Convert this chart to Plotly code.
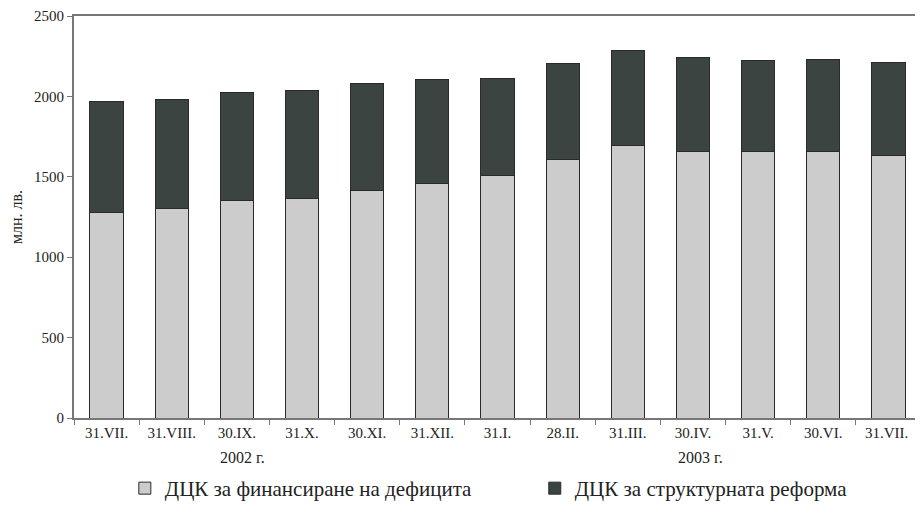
import plotly.graph_objects as go

categories = ["31.VII.", "31.VIII.", "30.IX.", "31.X.", "30.XI.", "31.XII.",
              "31.I.", "28.II.", "31.III.", "30.IV.", "31.V.", "30.VI.", "31.VII. "]
deficit = [1281, 1306, 1350, 1367, 1412, 1460, 1511, 1605, 1692, 1655, 1655, 1655, 1634]
reform = [689, 674, 674, 669, 670, 647, 598, 599, 595, 586, 567, 576, 578]
y_ticks = [0, 500, 1000, 1500, 2000, 2500]
series_names = ["ДЦК за финансиране на дефицита", "ДЦК за структурната реформа"]
year_labels = ["2002 г.", "2003 г."]

font = "Liberation Serif"
fig = go.Figure()
fig.add_bar(x=categories, y=deficit, name=series_names[0], legend="legend",
            marker=dict(color="#cccccc", line=dict(color="#2a2a2a", width=1)))
fig.add_bar(x=categories, y=reform, name=series_names[1], legend="legend2",
            marker=dict(color="#3c4442", line=dict(color="#2a2a2a", width=1)))

legend_style = dict(orientation="h", xanchor="left", y=-0.028, yanchor="bottom",
                    yref="container", font=dict(size=21, family=font))
fig.update_layout(
    width=915, height=501, barmode="stack", bargap=0.49,
    margin=dict(l=66, r=2, t=8, b=91),
    paper_bgcolor="white", plot_bgcolor="white",
    font=dict(family=font, size=15, color="#222"),
    showlegend=True,
    legend=dict(x=0.060, **legend_style),
    legend2=dict(x=0.544, **legend_style),
    annotations=[
        dict(text=year_labels[0], x=2.08, y=-0.072, xref="x", yref="paper",
             showarrow=False, font=dict(size=16, family=font), yanchor="top"),
        dict(text=year_labels[1], x=9.11, y=-0.072, xref="x", yref="paper",
             showarrow=False, font=dict(size=16, family=font), yanchor="top"),
    ],
)
fig.update_xaxes(showline=True, linecolor="#777", linewidth=2, mirror=True,
                 ticks="outside", tickson="boundaries", ticklen=5, tickcolor="#777",
                 tickfont=dict(size=15, family=font), showgrid=False, automargin=False)
fig.update_yaxes(range=[0, 2500], tickvals=y_ticks, showline=True, linecolor="#777",
                 linewidth=2, mirror=True, ticks="outside", ticklen=5, tickcolor="#777",
                 showgrid=False, zeroline=False, tickfont=dict(size=15, family=font),
                 automargin=False,
                 title=dict(text="млн. лв.", font=dict(size=16, family=font), standoff=17))
fig.write_html("out.html")
